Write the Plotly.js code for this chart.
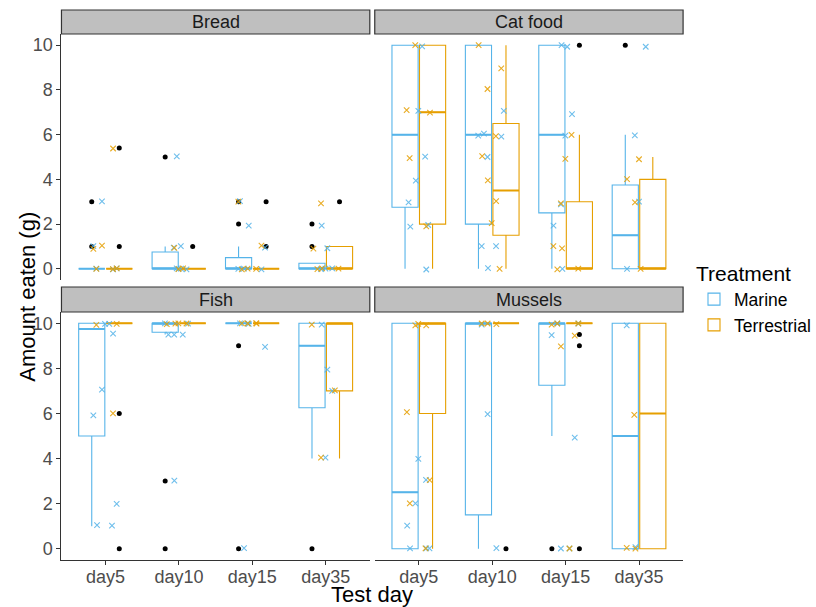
<!DOCTYPE html>
<html>
<head>
<meta charset="utf-8">
<script src="https://cdn.plot.ly/plotly-3.0.1.min.js"></script>
<style>html,body{margin:0;padding:0;background:#fff;}#chart{width:816px;height:607px;}</style>
</head>
<body>
<div id="chart"></div>
<script>
// ---------------- data ----------------
const days = ['day5', 'day10', 'day15', 'day35'];
const facets = ['Bread', 'Cat food', 'Fish', 'Mussels'];
const treatments = ['Marine', 'Terrestrial'];

// box statistics: one row per facet (Bread, Cat food, Fish, Mussels), one value per day
const marineQ1  = [[0, 0, 0, 0], [2.75, 2, 2.5, 0], [5, 9.6, 10, 6.25], [0, 1.5, 7.25, 0]];
const marineMed = [[0, 0, 0, 0], [6, 6, 6, 1.5], [9.75, 10, 10, 9], [2.5, 10, 10, 5]];
const marineQ3  = [[0, 0.75, 0.5, 0.25], [10, 10, 10, 3.75], [10, 10, 10, 10], [10, 10, 10, 10]];
const marineLo  = [[0, 0, 0, 0], [0, 0, 0, 0], [1, 9.5, 10, 4], [0, 0, 5, 0]];
const marineHi  = [[0, 1, 1, 0.25], [10, 10, 10, 6], [10, 10, 10, 10], [10, 10, 10, 10]];

const terrQ1  = [[0, 0, 0, 0], [2, 1.5, 0, 0], [10, 10, 10, 7], [6, 10, 10, 0]];
const terrMed = [[0, 0, 0, 0], [7, 3.5, 0, 0], [10, 10, 10, 10], [10, 10, 10, 6]];
const terrQ3  = [[0, 0, 0, 1], [10, 6.5, 3, 4], [10, 10, 10, 10], [10, 10, 10, 10]];
const terrLo  = [[0, 0, 0, 0], [0, 0, 0, 0], [10, 10, 10, 4], [0, 10, 10, 0]];
const terrHi  = [[0, 0, 0, 1], [10, 10, 6, 5], [10, 10, 10, 10], [10, 10, 10, 10]];

// outliers (black dots): facet -> day -> values
const marineOut = [
  [[3, 1], [5], [3, 2], [2, 1]],
  [[], [], [], [10]],
  [[], [3, 0], [9, 0], [0]],
  [[], [], [0], []]
];
const terrOut = [
  [[5.4, 1], [1], [3, 1], [3]],
  [[], [], [10], []],
  [[6, 0], [], [], []],
  [[], [0], [9.5, 9, 0], []]
];

// jittered observations (x markers): facet -> day -> values
const marinePts = [
  [[3.02, 1.01, 0.02, -0.02, 0.01], [5.03, 0.95, 1.01, 0.01, -0.02, 0.02, 0], [3.03, 1.93, 0.95, 0.01, -0.02, 0], [1.93, 0.92, 0.01, -0.01, 0.02]],
  [[9.95, 7.06, 5.02, 3.94, 2.97, 1.96, 1.89, -0.03], [7.06, 6.05, 5.96, 5.91, 5.0, 1.01, 1.01, 0.03], [10.0, 9.93, 6.92, 5.96, 2.88, 1.93, 0.0], [9.93, 5.97, 3.0, 0.0]],
  [[9.97, 9.97, 9.54, 7.06, 5.91, 1.99, 1.05, 1.02], [10, 9.98, 9.5, 9.5, 9.5, 3.02], [10, 9.97, 10, 8.95, 0.03], [9.94, 7.94, 7.0, 4.04]],
  [[3.99, 3.05, 2.01, 1.02, 0.02, 0.02, 0.02], [9.94, 5.97, 0.03], [9.99, 9.99, 9.47, 4.93, 0.01, 0.01], [9.91, 0.07]]
];
const terrPts = [
  [[5.38, 1.04, 0.89, 0, 0.02, -0.01], [0.94, 0.02, -0.01], [3.0, 1.04, 0.01, -0.02, 0], [2.93, 0.9, 0.01, 0.02, -0.01]],
  [[10.0, 7.1, 6.98, 4.95, 1.9], [10, 8.96, 8.04, 5.93, 5.04, 3.95, 3.03, 2.04, 0], [5.99, 4.92, 2.93, 1.01, 0.91, 0.01, -0.02], [4.9, 4.01, 2.97, 0.0]],
  [[9.93, 9.97, 6.0], [9.98, 10, 9.96, 9.99], [10, 9.98, 9.99, 10.01], [9.94, 7.02, 4.04]],
  [[9.91, 9.97, 9.91, 6.06, 3.04, 2.01, 0.02], [9.99, 9.99, 9.96], [9.99, 9.99, 9.94, 9.45, 8.98, 0.01], [5.94, 0.04, 0.0]]
];

// ---------------- styling ----------------
const colMarine = '#56B4E9';
const colTerr = '#E69F00';
const FONT = 'Liberation Sans, Arial, sans-serif';
const W = 816, H = 607;
const axes = [{x: 'x', y: 'y'}, {x: 'x2', y: 'y2'}, {x: 'x3', y: 'y3'}, {x: 'x4', y: 'y4'}];

function flatten(nested) {
  const xs = [], ys = [];
  nested.forEach((vals, d) => vals.forEach(v => { xs.push(days[d]); ys.push(v); }));
  return {xs, ys};
}

const traces = [];
const groups = [
  {name: 'Marine', col: colMarine, q1: marineQ1, med: marineMed, q3: marineQ3, lo: marineLo, hi: marineHi, out: marineOut, pts: marinePts},
  {name: 'Terrestrial', col: colTerr, q1: terrQ1, med: terrMed, q3: terrQ3, lo: terrLo, hi: terrHi, out: terrOut, pts: terrPts}
];

facets.forEach((f, fi) => {
  // boxes
  groups.forEach(g => {
    traces.push({
      type: 'box', name: g.name, x: days,
      q1: g.q1[fi], median: g.med[fi], q3: g.q3[fi], lowerfence: g.lo[fi], upperfence: g.hi[fi],
      xaxis: axes[fi].x, yaxis: axes[fi].y,
      line: {color: g.col, width: 1.1}, fillcolor: 'rgba(255,255,255,0)',
      whiskerwidth: 0, boxpoints: false,
      offsetgroup: g.name, alignmentgroup: 'box',
      legendgroup: g.name, showlegend: fi === 0, hoverinfo: 'skip'
    });
    // thicker median bar (ggplot fatten)
    traces.push({
      type: 'box', name: g.name + ' median', x: days,
      q1: g.med[fi], median: g.med[fi], q3: g.med[fi], lowerfence: g.med[fi], upperfence: g.med[fi],
      xaxis: axes[fi].x, yaxis: axes[fi].y,
      line: {color: g.col, width: 2}, fillcolor: 'rgba(255,255,255,0)',
      whiskerwidth: 0, boxpoints: false,
      offsetgroup: g.name, alignmentgroup: 'box', showlegend: false, hoverinfo: 'skip'
    });
  });
  // outliers
  groups.forEach(g => {
    const o = flatten(g.out[fi]);
    if (!o.ys.length) return;
    traces.push({
      type: 'box', name: g.name + ' outliers', x: o.xs, y: o.ys,
      xaxis: axes[fi].x, yaxis: axes[fi].y,
      boxpoints: 'all', jitter: 0, pointpos: 0,
      line: {width: 0, color: 'rgba(0,0,0,0)'}, fillcolor: 'rgba(0,0,0,0)', whiskerwidth: 0,
      marker: {color: '#000', size: 5, symbol: 'circle', line: {width: 0}},
      offsetgroup: g.name, alignmentgroup: 'box', showlegend: false, hoverinfo: 'skip'
    });
  });
  // jittered observations
  groups.forEach(g => {
    const p = flatten(g.pts[fi]);
    traces.push({
      type: 'box', name: g.name + ' obs', x: p.xs, y: p.ys,
      xaxis: axes[fi].x, yaxis: axes[fi].y,
      boxpoints: 'all', jitter: 0.55, pointpos: 0,
      line: {width: 0, color: 'rgba(0,0,0,0)'}, fillcolor: 'rgba(0,0,0,0)', whiskerwidth: 0,
      marker: {symbol: 'x-thin', size: 5.5, color: g.col, opacity: 0.85, line: {width: 1.1, color: g.col}},
      offsetgroup: 'pts', alignmentgroup: 'pts', showlegend: false, hoverinfo: 'skip'
    });
  });
});

// ---------------- layout ----------------
const px = v => v / W;
const py = v => 1 - v / H;
const colL = [px(62), px(373)], colR = [px(378), px(689)];
const rowT = [py(280), py(34)], rowB = [py(560), py(312)];

const tickFont = {family: FONT, size: 18, color: '#4d4d4d'};
const xBase = {
  type: 'category', categoryorder: 'array', categoryarray: days, range: [-0.6, 3.6],
  showgrid: false, zeroline: false, fixedrange: true
};
const xHidden = Object.assign({}, xBase, {showticklabels: false, ticks: '', showline: false});
const xShown = Object.assign({}, xBase, {
  showticklabels: true, ticks: 'outside', ticklen: 4, tickwidth: 1, tickcolor: '#333',
  showline: true, linecolor: '#333', linewidth: 1, tickfont: tickFont, ticklabelstandoff: -4
});
const yBase = {range: [-0.5, 10.5], showgrid: false, zeroline: false, fixedrange: true, tickvals: [0, 2, 4, 6, 8, 10]};
const yHidden = Object.assign({}, yBase, {showticklabels: false, ticks: '', showline: false});
const yShown = Object.assign({}, yBase, {
  showticklabels: true, ticks: 'outside', ticklen: 4, tickwidth: 1, tickcolor: '#333',
  showline: true, linecolor: '#333', linewidth: 1, tickfont: tickFont
});

const strips = [
  {x0: 62, x1: 373, y0: 10, y1: 34},
  {x0: 378, x1: 689, y0: 10, y1: 34},
  {x0: 62, x1: 373, y0: 287, y1: 312},
  {x0: 378, x1: 689, y0: 287, y1: 312}
];
const shapes = strips.map(s => ({
  type: 'rect', xref: 'paper', yref: 'paper',
  x0: px(s.x0), x1: px(s.x1), y0: py(s.y1), y1: py(s.y0),
  fillcolor: '#bfbfbf', line: {color: '#333', width: 1.2}, layer: 'above'
}));
const annotations = strips.map((s, i) => ({
  xref: 'paper', yref: 'paper', x: px((s.x0 + s.x1) / 2), y: py((s.y0 + s.y1) / 2),
  text: facets[i], showarrow: false, xanchor: 'center', yanchor: 'middle',
  font: {family: FONT, size: 18, color: '#1a1a1a'}
}));
annotations.push({
  xref: 'paper', yref: 'paper', x: px(375.5), y: py(594), text: 'Test day', showarrow: false,
  xanchor: 'center', yanchor: 'middle', font: {family: FONT, size: 22, color: '#000'}
});
annotations.push({
  xref: 'paper', yref: 'paper', x: px(27), y: py(297), text: 'Amount eaten (g)', showarrow: false,
  textangle: -90, xanchor: 'center', yanchor: 'middle', font: {family: FONT, size: 22, color: '#000'}
});

const layout = {
  width: W, height: H,
  margin: {l: 0, r: 0, t: 0, b: 0, pad: 0},
  paper_bgcolor: '#fff', plot_bgcolor: 'rgba(0,0,0,0)',
  font: {family: FONT},
  boxmode: 'group', boxgap: 0.25, boxgroupgap: 0.05,
  xaxis: Object.assign({}, xHidden, {domain: colL, anchor: 'y'}),
  xaxis2: Object.assign({}, xHidden, {domain: colR, anchor: 'y2'}),
  xaxis3: Object.assign({}, xShown, {domain: colL, anchor: 'y3'}),
  xaxis4: Object.assign({}, xShown, {domain: colR, anchor: 'y4'}),
  yaxis: Object.assign({}, yShown, {domain: rowT, anchor: 'x'}),
  yaxis2: Object.assign({}, yHidden, {domain: rowT, anchor: 'x2'}),
  yaxis3: Object.assign({}, yShown, {domain: rowB, anchor: 'x3'}),
  yaxis4: Object.assign({}, yHidden, {domain: rowB, anchor: 'x4'}),
  showlegend: true,
  legend: {
    x: px(700), y: py(254), xanchor: 'left', yanchor: 'top',
    title: {text: 'Treatment', font: {family: FONT, size: 21, color: '#000'}},
    font: {family: FONT, size: 17.5, color: '#000'},
    bgcolor: 'rgba(0,0,0,0)', borderwidth: 0, itemwidth: 30, tracegroupgap: 0
  },
  shapes: shapes,
  annotations: annotations
};

Plotly.newPlot('chart', traces, layout, {displayModeBar: false, staticPlot: true});
</script>
</body>
</html>
